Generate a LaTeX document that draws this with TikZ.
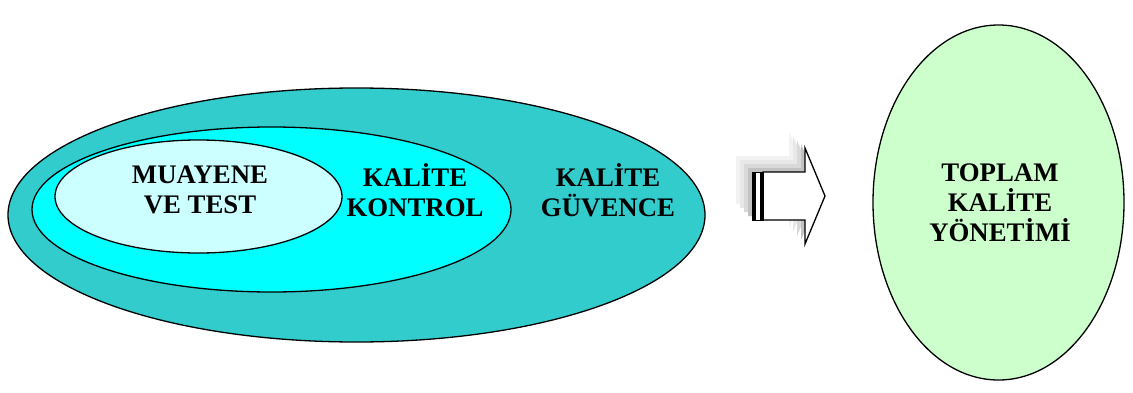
\documentclass[tikz,border=0pt]{standalone}
\usepackage{fontspec}
\setmainfont{Liberation Serif}
\usetikzlibrary{shapes.geometric}
\definecolor{guvence}{HTML}{33CCCC}
\definecolor{kontrol}{HTML}{00FFFF}
\definecolor{muayene}{HTML}{CCFFFF}
\definecolor{tky}{HTML}{CCFFCC}
\tikzset{
  oval/.style={ellipse, draw=black, line width=1.3pt, inner sep=0pt},
  lbl/.style={align=center, font=\fontsize{26.8}{30}\selectfont\bfseries, inner sep=0pt},
  arrowbody/.style={fill=white, draw=black, line width=1.3pt, line join=miter},
}
\newcommand{\blockarrow}{(763,172) -- (805,172) -- (805,148) -- (825,196) -- (805,244) -- (805,220) -- (763,220) -- cycle}
\begin{document}
\begin{tikzpicture}[x=1pt,y=1pt]
\useasboundingbox (0,0) rectangle (1133,392);
% nested quality ellipses
\node[oval, fill=guvence, minimum width=697, minimum height=254] (gv) at (356.5,177) {};
\node[oval, fill=kontrol, minimum width=479, minimum height=165] (kk) at (271.5,182.5) {};
\node[oval, fill=muayene, minimum width=287, minimum height=113] (mt) at (198.5,195.5) {};
\node[oval, fill=tky, minimum width=251, minimum height=355] (tk) at (998.5,189.5) {};
% labels
\node[lbl] (tmt) at (200,202) {MUAYENE\\VE TEST};
\node[lbl] (tkk) at (415,202) {KALİTE\\KONTROL};
\node[lbl] (tgv) at (608,202) {KALİTE\\GÜVENCE};
\node[lbl] (ttk) at (1000,189) {TOPLAM\\KALİTE\\YÖNETİMİ};
% soft shadow behind the block arrow
\foreach \d/\g in {16/5, 12/9, 8/15, 4/24}{
  \fill[black!\g, shift={(-\d,\d)}] (752,172) -- (805,172) -- (805,148) -- (825,196) -- (805,244) -- (805,220) -- (752,220) -- cycle;
}
% striped block arrow
\draw[arrowbody] \blockarrow;
\fill[black] (752,172) rectangle (756,220);
\fill[white] (756,172) rectangle (760,220);
\fill[black] (760,172) rectangle (763.5,220);
\draw[line width=0.6pt] (752,172) rectangle (763,220);
\end{tikzpicture}
\end{document}
